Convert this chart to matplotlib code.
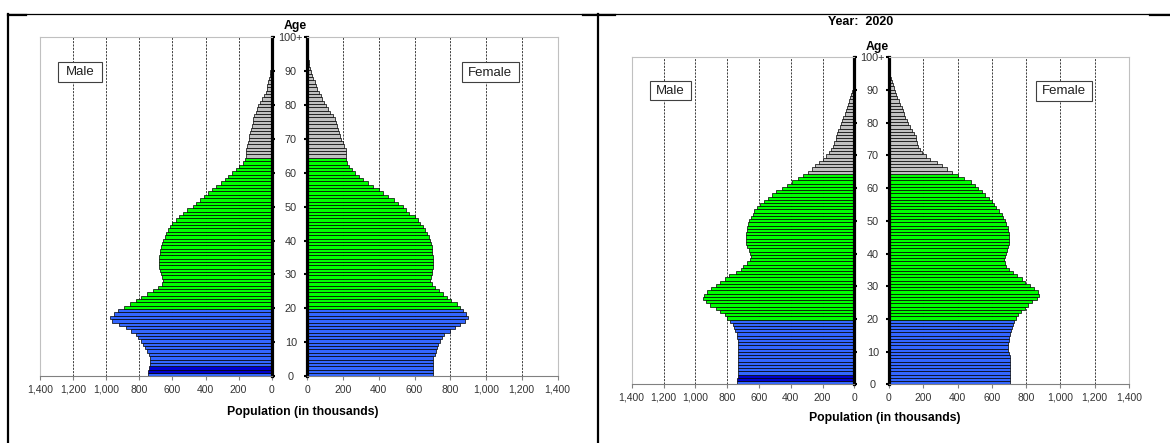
import numpy as np
import matplotlib.pyplot as plt
from matplotlib.lines import Line2D
from matplotlib.patches import Rectangle

plt.rcParams['font.family'] = ['Liberation Sans', 'DejaVu Sans']

# single years of age, 0 .. 100+
ages = np.arange(101)
age_ticks = list(range(0, 101, 10))
age_labels = [str(a) for a in range(0, 100, 10)] + ['100+']
pop_ticks = list(range(0, 1401, 200))
pop_labels = ['0', '200', '400', '600', '800', '1,000', '1,200', '1,400']
highlight_ages = [1, 2]  # darker blue cohort on the male side

# left pyramid (population in thousands)
male_1 = [750, 745, 740, 738, 736, 736, 744, 754, 766, 780,
          790, 806, 820, 850, 880, 924, 962, 975, 955, 928,
          892, 856, 822, 788, 752, 718, 686, 662, 656, 662,
          670, 675, 678, 680, 680, 678, 676, 674, 670, 662,
          654, 646, 636, 626, 615, 600, 580, 560, 536, 510,
          476, 455, 432, 408, 384, 360, 334, 308, 284, 262,
          238, 215, 195, 176, 162, 158, 156, 154, 150, 145,
          140, 135, 130, 126, 121, 116, 111, 104, 96, 88,
          80, 68, 56, 45, 37, 31, 27, 22, 17, 12,
          8, 6, 4, 3, 2, 1.5, 1, 0.7, 0.5, 0.3, 0.3]
female_1 = [706, 706, 706, 706, 706, 706, 713, 719, 724, 734,
            743, 752, 767, 799, 827, 855, 883, 900, 889, 874,
            855, 835, 805, 782, 758, 735, 712, 695, 688, 692,
            697, 700, 702, 702, 702, 702, 700, 698, 695, 690,
            686, 680, 670, 660, 645, 632, 620, 600, 570, 550,
            534, 510, 485, 454, 426, 400, 370, 340, 312, 289,
            267, 248, 233, 222, 217, 217, 217, 214, 208, 198,
            190, 182, 175, 170, 165, 158, 153, 142, 128, 116,
            106, 95, 85, 76, 66, 57, 49, 41, 34, 28,
            23, 16, 10, 7, 4, 3, 2, 1, 0.7, 0.5, 0.5]

# right pyramid, year 2020
male_2 = [735, 735, 733, 732, 730, 730, 730, 730, 730, 730,
          730, 730, 730, 731, 735, 740, 748, 755, 765, 780,
          798, 815, 843, 870, 905, 935, 950, 945, 925, 900,
          870, 845, 815, 785, 745, 715, 700, 675, 658, 650,
          655, 665, 672, 678, 680, 680, 678, 675, 672, 666,
          660, 650, 640, 628, 612, 595, 570, 545, 518, 490,
          455, 425, 390, 355, 320, 290, 265, 245, 220, 200,
          180, 160, 145, 135, 125, 118, 112, 106, 100, 92,
          84, 76, 68, 60, 52, 45, 40, 33, 26, 20,
          13, 9, 6, 4, 3, 2, 1, 0.7, 0.5, 0.3, 0.3]
female_2 = [704, 704, 704, 704, 704, 704, 704, 704, 704, 698,
            695, 695, 696, 698, 702, 708, 714, 720, 726, 730,
            740, 752, 770, 795, 813, 835, 862, 876, 872, 846,
            823, 795, 774, 749, 721, 700, 685, 675, 672, 676,
            684, 690, 694, 698, 700, 700, 700, 697, 694, 685,
            674, 665, 657, 642, 626, 612, 600, 582, 562, 542,
            520, 500, 477, 440, 400, 370, 340, 310, 278, 240,
            215, 195, 180, 170, 164, 160, 156, 148, 135, 122,
            113, 104, 96, 88, 80, 73, 65, 57, 49, 41,
            34, 27, 21, 15, 11, 7, 4, 2, 1, 0.5, 0.5]

W, H = 1170, 443
fig = plt.figure(figsize=(W / 100, H / 100), dpi=100)


def fx(x):
    return x / W


def fy(y):
    return 1 - y / H


def px_axes(x0, y0, x1, y1):
    return fig.add_axes([fx(x0), fy(y1), (x1 - x0) / W, (y1 - y0) / H])


def age_colors(is_male):
    cols = []
    for a in ages:
        if a >= 65:
            cols.append('#c0c0c0')
        elif a >= 20:
            cols.append('#00ff00')
        elif is_male and a in highlight_ages:
            cols.append('#0000cc')
        else:
            cols.append('#3366ff')
    return cols


slot = 100 / len(ages)
pos = (ages + 0.5) * slot


def draw_side(ax, values, is_male, label_pad):
    ax.barh(pos, values, height=slot, color=age_colors(is_male),
            edgecolor='black', linewidth=0.5, zorder=2)
    ax.set_ylim(0, 100)
    ax.set_xlim((1400, 0) if is_male else (0, 1400))
    for v in pop_ticks[1:-1]:
        ax.axvline(v, color='#202020', lw=0.6, ls=(0, (2.5, 1.5)), zorder=1)
    ax.set_xticks(pop_ticks)
    ax.set_xticklabels(pop_labels)
    ax.tick_params(axis='x', direction='out', length=3, width=0.8, color='#808080',
                   labelsize=7.5, labelcolor='#333333', pad=3)
    inner, outer = ('right', 'left') if is_male else ('left', 'right')
    ax.spines[inner].set_linewidth(2.3)
    ax.spines[inner].set_color('black')
    ax.spines[outer].set_color('#c0c0c0')
    ax.spines['top'].set_color('#c0c0c0')
    ax.spines['bottom'].set_color('#808080')
    for s in ax.spines.values():
        s.set_zorder(3)
    ax.set_yticks(age_ticks)
    if is_male:
        ax.yaxis.tick_right()
        ax.set_yticklabels(age_labels, ha='center')
        ax.tick_params(axis='y', left=False, right=True, labelleft=False, labelright=True,
                       direction='out', length=2.5, width=1.5, color='black',
                       labelsize=7.8, labelcolor='#333333', pad=label_pad)
    else:
        ax.tick_params(axis='y', left=True, right=False, labelleft=False, labelright=False,
                       direction='out', length=2.5, width=1.5, color='black')


# left pyramid
ax_m1 = px_axes(40, 36.7, 271.7, 376.4)
ax_f1 = px_axes(307.3, 36.7, 557.5, 376.4)
draw_side(ax_m1, male_1, True, 11.2)
draw_side(ax_f1, female_1, False, 0)

# right pyramid
ax_m2 = px_axes(631.7, 57.3, 854.3, 384.3)
ax_f2 = px_axes(889, 57.3, 1129, 384.3)
draw_side(ax_m2, male_2, True, 10.8)
draw_side(ax_f2, female_2, False, 0)

# titles and axis labels
fig.text(fx(295.6), fy(25.7), 'Age', ha='center', va='center', fontsize=8.8, fontweight='bold')
fig.text(fx(877.5), fy(46.7), 'Age', ha='center', va='center', fontsize=8.8, fontweight='bold')
fig.text(fx(861), fy(21.7), 'Year:  2020', ha='center', va='center', fontsize=9, fontweight='bold')
fig.text(fx(303), fy(412), 'Population (in thousands)', ha='center', va='center',
         fontsize=8.8, fontweight='bold')
fig.text(fx(885), fy(418), 'Population (in thousands)', ha='center', va='center',
         fontsize=8.8, fontweight='bold')

# Male / Female boxes
for (x0, y0, x1, y1, txt) in [(58.3, 61.7, 102.3, 81.7, 'Male'),
                              (461.7, 62, 518.7, 82, 'Female'),
                              (649.5, 81, 691, 100, 'Male'),
                              (1036, 81, 1092, 101, 'Female')]:
    fig.add_artist(Rectangle((fx(x0), fy(y1)), (x1 - x0) / W, (y1 - y0) / H,
                             transform=fig.transFigure, facecolor='white',
                             edgecolor='#404040', linewidth=0.8, zorder=5))
    fig.text(fx((x0 + x1) / 2), fy((y0 + y1) / 2 + 0.5), txt, ha='center', va='center',
             fontsize=9.5, color='#202020', zorder=6)

# table frame around the two charts
def frame_line(xs, ys, lw):
    fig.add_artist(Line2D([fx(x) for x in xs], [fy(y) for y in ys],
                          transform=fig.transFigure, color='black', linewidth=lw))

frame_line([8, 1170], [14, 14], 0.9)
frame_line([8, 26], [14.5, 14.5], 1.6)
frame_line([583, 615], [14.5, 14.5], 1.6)
frame_line([1150, 1170], [14.5, 14.5], 1.6)
frame_line([8, 8], [14, 443], 1.6)
frame_line([598, 598], [14, 443], 1.6)

fig.savefig('out.png', dpi=100)
